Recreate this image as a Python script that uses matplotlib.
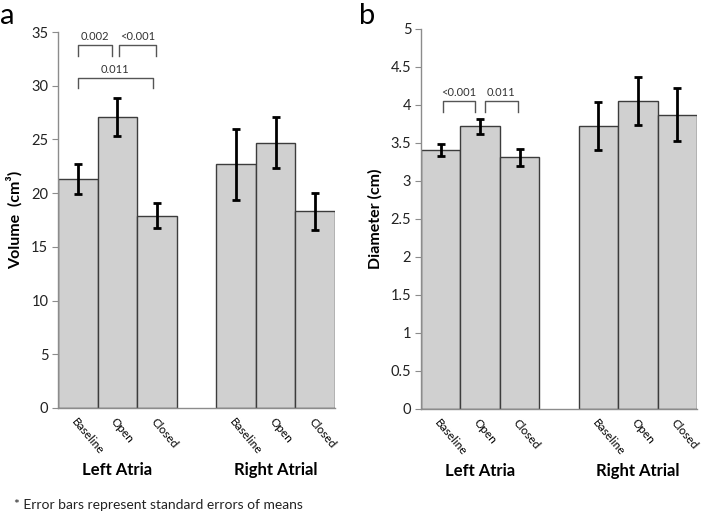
import numpy as np
import matplotlib.pyplot as plt
from matplotlib.ticker import FuncFormatter

plt.rcParams['font.family'] = ['Lato', 'DejaVu Sans']

# данные
cats = ['Baseline', 'Open', 'Closed']
groups = ['Left Atria', 'Right Atrial']

vol_left = [21.3, 27.1, 17.9]
vol_left_se = [1.4, 1.8, 1.15]
vol_right = [22.7, 24.7, 18.3]
vol_right_se = [3.3, 2.4, 1.7]

dia_left = [3.41, 3.72, 3.31]
dia_left_se = [0.08, 0.10, 0.11]
dia_right = [3.72, 4.05, 3.87]
dia_right_se = [0.32, 0.32, 0.35]

# скобки с p-значениями: (x начала, x конца, высота, подпись)
vol_brackets = [(0.0, 0.86, 33.8, '0.002'), (1.04, 1.98, 33.8, '<0.001'),
                (0.0, 1.89, 30.75, '0.011')]
dia_brackets = [(0.05, 0.88, 4.05, '<0.001'), (1.12, 1.95, 4.05, '0.011')]

edge = '#3c3c3c'
face = '#d0d0d0'
grey = '#8c8c8c'


def draw_panel(ax, left, left_se, right, right_se, ymax, step, ylabel, brackets, tick_h):
    x = [0, 1, 2, 4, 5, 6]
    vals = left + right
    errs = left_se + right_se
    ax.bar(x, vals, width=1.0, color=face, edgecolor=edge, linewidth=1.0, zorder=2)
    ax.errorbar(x, vals, yerr=errs, fmt='none', ecolor='black', elinewidth=2,
                capsize=3, capthick=2, zorder=3)
    ax.set_xlim(-0.5, 6.5)
    ax.set_ylim(0, ymax)
    ax.set_yticks(np.arange(0, ymax + step / 2, step))
    ax.yaxis.set_major_formatter(FuncFormatter(lambda v, p: '%g' % v))
    ax.tick_params(axis='y', labelsize=10.5, length=4, color=grey, labelcolor='#222222', pad=3)
    ax.set_xticks(x)
    ax.set_xticklabels(cats * 2, rotation=-50, ha='left', va='top',
                       rotation_mode='anchor', fontsize=8.5)
    ax.tick_params(axis='x', length=0, pad=6)
    for s in ['top', 'right']:
        ax.spines[s].set_visible(False)
    for s in ['left', 'bottom']:
        ax.spines[s].set_color(grey)
        ax.spines[s].set_linewidth(1)
    ax.set_ylabel(ylabel, fontsize=11.5, fontweight='bold', labelpad=6)
    tr = ax.get_xaxis_transform()
    ax.text(1, -0.165, groups[0], transform=tr, ha='center', va='center',
            fontsize=12, fontweight='bold')
    ax.text(5, -0.165, groups[1], transform=tr, ha='center', va='center',
            fontsize=12, fontweight='bold')
    for x0, x1, y, lab in brackets:
        ax.plot([x0, x0, x1, x1], [y - tick_h, y, y, y - tick_h], color='#555555',
                linewidth=1, zorder=4)
        ax.text((x0 + x1) / 2, y + tick_h * 0.25, lab, ha='center', va='bottom',
                fontsize=8, color='#333333')


fig = plt.figure(figsize=(7.02, 5.13), dpi=100)
ax1 = fig.add_axes([0.0826, 0.2047, 0.3946, 0.7329])
ax2 = fig.add_axes([0.5997, 0.2033, 0.3933, 0.7402])

draw_panel(ax1, vol_left, vol_left_se, vol_right, vol_right_se, 35, 5,
           'Volume  (cm³)', vol_brackets, 1.0)
draw_panel(ax2, dia_left, dia_left_se, dia_right, dia_right_se, 5, 0.5,
           'Diameter (cm)', dia_brackets, 0.14)

fig.text(0.0, 0.968, 'a', fontsize=21, va='center', ha='left')
fig.text(0.512, 0.968, 'b', fontsize=21, va='center', ha='left')
fig.text(0.02, 0.015, '* Error bars represent standard errors of means', fontsize=10,
         color='#222222', va='center', ha='left')

fig.savefig('out.png', dpi=100)
